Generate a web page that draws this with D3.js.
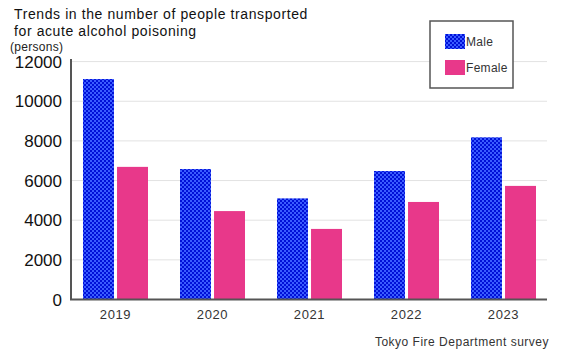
<!DOCTYPE html>
<html><head><meta charset="utf-8">
<script src="https://cdn.jsdelivr.net/npm/d3@7"></script>
<style>body{margin:0;background:#fff;}svg{display:block;font-family:"Liberation Sans",Arial,sans-serif;}</style>
</head><body>
<script>
const years = ["2019","2020","2021","2022","2023"];
const male = [11120, 6580, 5100, 6480, 8180];
const female = [6690, 4460, 3560, 4920, 5730];
const yTicks = [0,2000,4000,6000,8000,10000,12000];
const seriesNames = ["Male","Female"];

const W=565,H=360;
const svg=d3.select("body").append("svg").attr("width",W).attr("height",H);
const defs=svg.append("defs");
const pat=defs.append("pattern").attr("id","chk").attr("patternUnits","userSpaceOnUse").attr("width",4).attr("height",4);
pat.append("rect").attr("width",4).attr("height",4).attr("fill","#3a5cff");
pat.append("rect").attr("width",2).attr("height",2).attr("fill","#0010d8");
pat.append("rect").attr("x",2).attr("y",2).attr("width",2).attr("height",2).attr("fill","#0010d8");
const colors=["url(#chk)","#e8388a"];

const y=d3.scaleLinear().domain([0,12000]).range([299.5,61.6]);
const x=d3.scaleBand().domain(years).range([67,552]);
const xs=d3.scaleBand().domain(seriesNames).range([0,65]).paddingInner(0.09);

svg.append("g").selectAll("line").data(yTicks.filter(d=>d>0)).join("line")
 .attr("x1",71).attr("x2",547).attr("y1",d=>y(d)).attr("y2",d=>y(d))
 .attr("stroke","#e2e2e2").attr("stroke-width",1);

const data=[male,female];
years.forEach((yr,i)=>{
  seriesNames.forEach((s,j)=>{
    const v=data[j][i];
    svg.append("rect").attr("x",x(yr)+x.bandwidth()/2-32.5+xs(s)).attr("width",xs.bandwidth())
      .attr("y",y(v)).attr("height",y(0)-y(v)).attr("fill",colors[j]);
  });
});

svg.append("line").attr("x1",71).attr("x2",71).attr("y1",59).attr("y2",300).attr("stroke","#555").attr("stroke-width",2);
svg.append("line").attr("x1",70).attr("x2",547).attr("y1",299.5).attr("y2",299.5).attr("stroke","#555").attr("stroke-width",2);

svg.append("g").selectAll("text").data(yTicks).join("text")
 .attr("x",62).attr("y",d=>y(d)+6).attr("text-anchor","end").attr("font-size",17).attr("fill","#111").text(d=>d);

svg.append("g").selectAll("text").data(years).join("text")
 .attr("x",d=>x(d)+x.bandwidth()/2).attr("y",319).attr("text-anchor","middle").attr("font-size",13)
 .attr("letter-spacing",0.6).attr("fill","#333").text(d=>d);

svg.append("text").attr("x",14).attr("y",19).attr("font-size",14).attr("letter-spacing",0.6).attr("fill","#111").text("Trends in the number of people transported");
svg.append("text").attr("x",14).attr("y",36).attr("font-size",14).attr("letter-spacing",0.6).attr("fill","#111").text("for acute alcohol poisoning");
svg.append("text").attr("x",10).attr("y",51).attr("font-size",12).attr("letter-spacing",0.3).attr("fill","#222").text("(persons)");

svg.append("rect").attr("x",430).attr("y",21).attr("width",83).attr("height",67).attr("fill","#fff").attr("stroke","#555").attr("stroke-width",1.5);
seriesNames.forEach((s,j)=>{
  svg.append("rect").attr("x",445).attr("y",34+j*26).attr("width",20).attr("height",15).attr("fill",colors[j]);
  svg.append("text").attr("x",466).attr("y",46+j*26).attr("font-size",12).attr("letter-spacing",0.3).attr("fill","#333").text(s);
});

svg.append("text").attr("x",549).attr("y",346).attr("text-anchor","end").attr("font-size",12).attr("letter-spacing",0.5).attr("fill","#333").text("Tokyo Fire Department survey");
</script>
</body></html>
